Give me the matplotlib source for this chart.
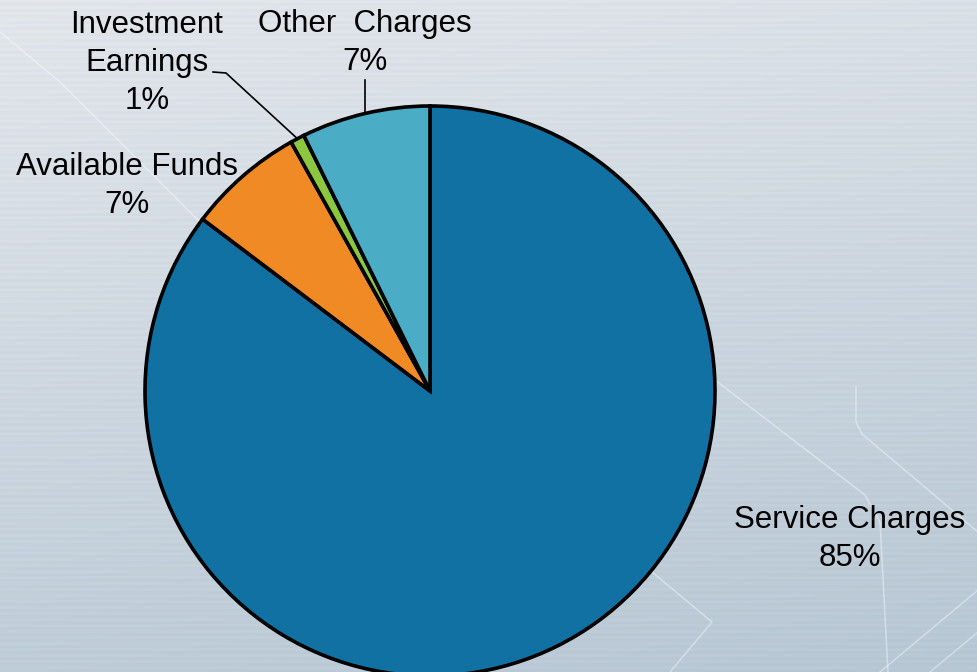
import numpy as np
import matplotlib.pyplot as plt

# ── Data ──────────────────────────────────────────────────────────────────────
labels = ["Service Charges", "Available Funds", "Investment\nEarnings", "Other  Charges"]
shares = [85.3, 6.6, 0.8, 7.3]
pct_labels = ["85%", "7%", "1%", "7%"]
colors = ["#1271A3", "#F08A24", "#8DC63F", "#4BACC6"]

W, H = 978, 672
plt.rcParams["font.family"] = ["Liberation Sans", "DejaVu Sans"]

fig = plt.figure(figsize=(W / 100, H / 100), dpi=100)

# ── Background: soft blue-grey gradient with fine stripes ─────────────────────
bg = fig.add_axes([0, 0, 1, 1])
ty = np.linspace(0, 1, H)[:, None]
tx = np.linspace(0, 1, W)[None, :]
top = np.array([228, 232, 237]) / 255
bot = np.array([184, 200, 213]) / 255
mix = np.clip(0.8 * ty + 0.2 * tx, 0, 1)[..., None]
img = top * (1 - mix) + bot * mix
stripes = ((np.arange(H) // 3) % 2)[:, None, None] * 0.012
img = np.clip(img - stripes, 0, 1)
bg.imshow(img, extent=[0, W, 0, H], aspect="auto", origin="upper")
deco = [
    ([0, 60, 230], [640, 590, 420]),
    ([715, 865, 880, 888], [292, 177, 150, 0]),
    ([856, 856, 862, 978], [285, 250, 238, 140]),
    ([978, 880], [82, 0]),
    ([978, 930], [40, 0]),
    ([640, 712, 670], [110, 50, 0]),
]
for xs, ys in deco:
    bg.plot(xs, ys, color="white", lw=1.1, alpha=0.4)
bg.set_xlim(0, W)
bg.set_ylim(0, H)
bg.axis("off")

# ── Pie ───────────────────────────────────────────────────────────────────────
ax = fig.add_axes([0, 0, 1, 1])
ax.patch.set_alpha(0)
cx, cy, R = 430, H - 391, 285
wedges, _ = ax.pie(shares, colors=colors, startangle=90, counterclock=False,
                   center=(cx, cy), radius=R,
                   wedgeprops=dict(edgecolor="black", linewidth=2.6))
ax.set_xlim(0, W)
ax.set_ylim(0, H)
ax.axis("off")

def edge_point(w):
    a = np.deg2rad((w.theta1 + w.theta2) / 2)
    return cx + R * np.cos(a), cy + R * np.sin(a)

# label centres in pixel coords (y measured from top)
label_pos = [(850, 539), (127, 186), (147, 63), (365, 43)]
for lab, pct, (x, y) in zip(labels, pct_labels, label_pos):
    ax.text(x, H - y, f"{lab}\n{pct}", ha="center", va="center",
            fontsize=22.5, color="black", linespacing=1.33)

# leader lines
ex, ey = edge_point(wedges[2])
ax.plot([213, 226, ex], [H - 72, H - 73, ey], color="black", lw=1.2)
ex, ey = edge_point(wedges[3])
ax.plot([ex, ex], [H - 80, ey], color="black", lw=1.2)

fig.savefig("out.png", dpi=100)
